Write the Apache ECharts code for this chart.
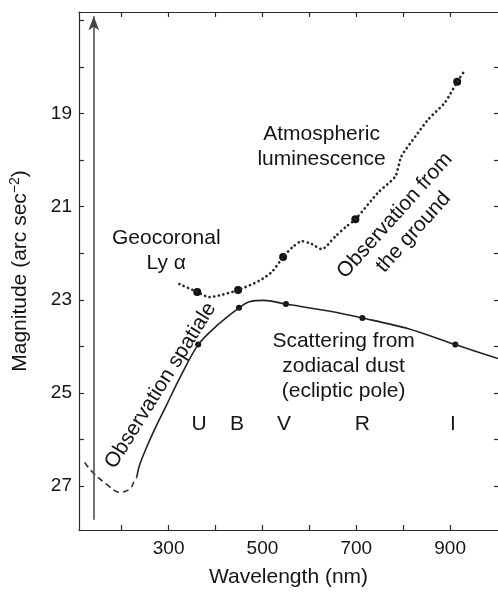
<!DOCTYPE html>
<html>
<head>
<meta charset="utf-8">
<script src="https://cdn.jsdelivr.net/npm/echarts@6/dist/echarts.min.js"></script>
<style>html,body{margin:0;padding:0;background:#fff;}#c{width:498px;height:593px;}</style>
</head>
<body>
<div id="c"></div>
<script>
// ---- data ----
const wavelengthTicks = [200, 300, 400, 500, 600, 700, 800, 900];
const wavelengthLabels = [300, 500, 700, 900];
const magTicks = [17, 18, 19, 20, 21, 22, 23, 24, 25, 26, 27];
const magLabels = [19, 21, 23, 25, 27];

// dashed extrapolation (space, short wavelength)
const dashedWave = [121, 138, 168, 196, 217, 228, 232];
const dashedMag  = [26.49, 26.70, 26.96, 27.13, 27.06, 26.87, 26.81];

// solid: observation spatiale / zodiacal dust scattering
const solidWave = [232, 238, 252, 274, 295, 323, 363, 402, 450, 472, 503, 550, 641, 713, 811, 911, 1002];
const solidMag  = [26.81, 26.55, 26.19, 25.70, 25.27, 24.69, 23.96, 23.56, 23.17, 23.04, 23.01, 23.09, 23.24, 23.39, 23.62, 23.96, 24.26];

// dotted: observation from the ground
const dottedWave = [323, 361, 387, 414, 448, 493, 520, 544, 564, 584, 605, 626, 656, 677, 698, 747, 783, 796, 826, 853, 889, 915, 932];
const dottedMag  = [22.66, 22.83, 22.94, 22.89, 22.79, 22.59, 22.40, 22.08, 21.87, 21.74, 21.80, 21.91, 21.63, 21.44, 21.27, 20.69, 20.35, 19.92, 19.49, 19.13, 18.76, 18.32, 18.06];

// measured points (UBVRI)
const bandNames = ['U', 'B', 'V', 'R', 'I'];
const bandWave  = [365, 446, 546, 713, 906];
const bandLabelMag = 25.67;
const spaceDotWave = [363, 450, 550, 713, 911];
const spaceDotMag  = [23.96, 23.17, 23.09, 23.39, 23.96];
const groundDotWave = [361, 448, 544, 698, 915];
const groundDotMag  = [22.83, 22.79, 22.08, 21.27, 18.32];

// vertical arrow
const arrowWave = 140.5;
const arrowMag = [27.72, 16.91];

// annotations
const notes = [
  {text: 'Geocoronal\nLy α', wave: 295, mag: 21.94, rot: 0},
  {text: 'Atmospheric\nluminescence', wave: 626, mag: 19.71, rot: 0},
  {text: 'Observation from\nthe ground', wave: 802, mag: 21.37, rot: 48},
  {text: 'Observation spatiale', wave: 283, mag: 24.84, rot: 58},
  {text: 'Scattering from\nzodiacal dust\n(ecliptic pole)', wave: 673, mag: 24.43, rot: 0}
];

// ---- chart ----
const FONT = 'Liberation Sans, Arial, Helvetica, sans-serif';
const TXT = '#151515';
const LINE = '#2a2a2a';
const zip = (a, b) => a.map((v, i) => [v, b[i]]);

const chart = echarts.init(document.getElementById('c'), null, {renderer: 'canvas'});

const xBase = {
  type: 'value', min: 109, max: 1002,
  splitLine: {show: false},
  axisLine: {show: true, onZero: false, lineStyle: {color: LINE, width: 1.2}},
  axisTick: {show: true, inside: true, length: 5, customValues: wavelengthTicks, lineStyle: {color: LINE, width: 1.2}},
};
const yBase = {
  type: 'value', inverse: true, min: 16.82, max: 27.94,
  splitLine: {show: false},
  axisLine: {show: true, onZero: false, lineStyle: {color: LINE, width: 1.2}},
  axisTick: {show: true, inside: true, length: 5, customValues: magTicks, lineStyle: {color: LINE, width: 1.2}},
};

chart.setOption({
  animation: false,
  backgroundColor: '#fff',
  textStyle: {fontFamily: FONT},
  grid: {left: 79, top: 12, right: -2, bottom: 61, containLabel: false},
  xAxis: [
    Object.assign({}, xBase, {
      position: 'bottom',
      name: 'Wavelength (nm)', nameLocation: 'middle', nameGap: 37,
      nameTextStyle: {fontSize: 21, color: TXT, fontFamily: FONT},
      axisLabel: {show: true, customValues: wavelengthLabels, margin: 9, fontSize: 19, color: TXT, fontFamily: FONT}
    }),
    Object.assign({}, xBase, {position: 'top', axisLabel: {show: false}})
  ],
  yAxis: [
    Object.assign({}, yBase, {
      position: 'left',
      name: 'Magnitude (arc sec{sup|−2})', nameLocation: 'middle', nameGap: 46,
      nameTextStyle: {fontSize: 21, color: TXT, fontFamily: FONT,
        rich: {sup: {fontSize: 14, color: TXT, fontFamily: FONT, padding: [0, 0, 11, 0]}}},
      axisLabel: {show: true, customValues: magLabels, margin: 7, fontSize: 19, color: TXT, fontFamily: FONT}
    }),
    Object.assign({}, yBase, {position: 'right', axisLine: {show: false},
      axisTick: Object.assign({}, yBase.axisTick, {customValues: magTicks.slice(1), length: 4}),
      axisLabel: {show: false}})
  ],
  series: [
    {
      type: 'line', name: 'dashed', data: zip(dashedWave, dashedMag), smooth: 0.4,
      showSymbol: false, symbol: 'none',
      lineStyle: {color: '#333', width: 1.6, type: [6, 4]},
      markLine: {
        silent: true, symbol: ['none', 'arrow'], symbolSize: [8, 14],
        label: {show: false},
        lineStyle: {color: '#444', width: 1.5, type: 'solid'},
        data: [[{coord: [arrowWave, arrowMag[0]]}, {coord: [arrowWave, arrowMag[1]]}]]
      }
    },
    {
      type: 'line', name: 'space', data: zip(solidWave, solidMag), smooth: 0.3,
      showSymbol: false, symbol: 'none',
      lineStyle: {color: '#222', width: 1.6}
    },
    {
      type: 'line', name: 'ground', data: zip(dottedWave, dottedMag), smooth: 0.25,
      showSymbol: false, symbol: 'none',
      lineStyle: {color: '#2a2a2a', width: 2.7, type: [0.1, 4.6], cap: 'round'}
    },
    {
      type: 'scatter', data: zip(spaceDotWave, spaceDotMag), symbolSize: 6,
      itemStyle: {color: '#111', opacity: 1}
    },
    {
      type: 'scatter', data: zip(groundDotWave, groundDotMag), symbolSize: 8,
      itemStyle: {color: '#111', opacity: 1}
    },
    {
      type: 'scatter', symbolSize: 0, itemStyle: {opacity: 1},
      data: bandNames.map((n, i) => ({value: [bandWave[i], bandLabelMag], name: n})),
      label: {show: true, position: 'inside', formatter: p => p.name, fontSize: 21, color: TXT, fontFamily: FONT, opacity: 1}
    },
    {
      type: 'scatter', symbolSize: 0, itemStyle: {opacity: 1},
      data: notes.map(n => ({value: [n.wave, n.mag], name: n.text,
        label: {rotate: n.rot}})),
      label: {show: true, position: 'inside', formatter: p => p.name, fontSize: 21, lineHeight: 25,
        color: TXT, fontFamily: FONT, align: 'center', verticalAlign: 'middle', opacity: 1}
    }
  ]
});
</script>
</body>
</html>
